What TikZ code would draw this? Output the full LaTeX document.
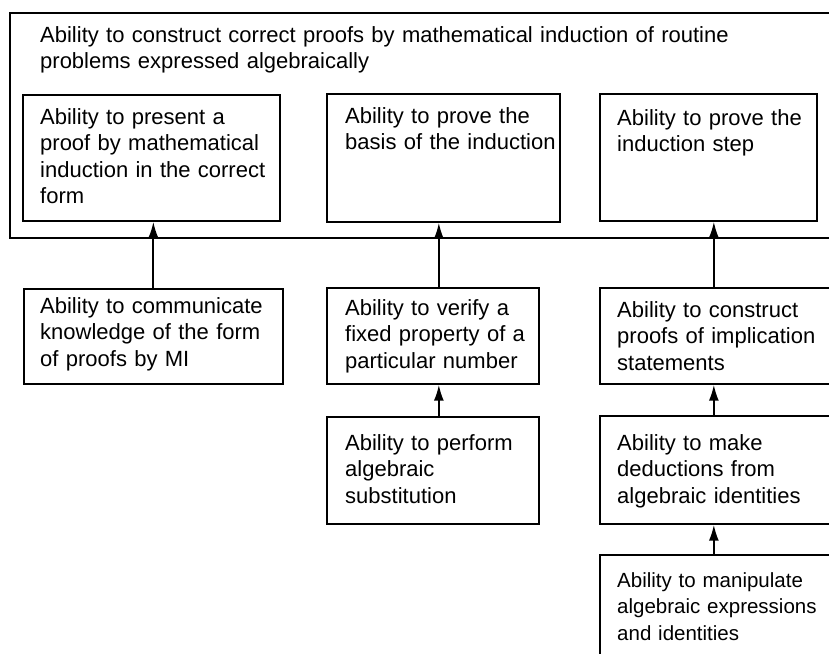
\documentclass[tikz,border=0pt]{standalone}
\usepackage{fontspec}
\setmainfont{Liberation Sans}
\usetikzlibrary{arrows.meta,calc}
\begin{document}
\begin{tikzpicture}[x=1pt,y=-1pt,
  box/.style={draw, line width=1.7pt, anchor=north west, inner sep=0pt},
  txt/.style={anchor=base west, align=left, inner sep=0pt, text width=400pt,
    font=\fontsize{22}{26.5}\selectfont},
  arr/.style={-{Latex[length=16pt,width=10pt]}, line width=1.9pt}]
\clip (0,0) rectangle (829,653);
\fill[white] (0,0) rectangle (829,653);
% outer box
\node[box, minimum width=840pt, minimum height=225pt] (outer) at (9,12) {};
\node[txt, text width=800pt, font=\fontsize{22}{26}\selectfont] (t0) at (40,42) {Ability to construct correct proofs by mathematical induction of routine\\problems expressed algebraically};
% inner boxes
\node[box, minimum width=257pt, minimum height=126pt] (in1) at (22,94) {};
\node[txt] (t1) at (40,124) {Ability to present a\\proof by mathematical\\induction in the correct\\form};
\node[box, minimum width=233pt, minimum height=128pt] (in2) at (326,93) {};
\node[txt] (t2) at (345,123) {Ability to prove the\\basis of the induction};
\node[box, minimum width=217pt, minimum height=127pt] (in3) at (599,93) {};
\node[txt] (t3) at (617,125) {Ability to prove the\\induction step};
% second row
\node[box, minimum width=259pt, minimum height=95pt] (lo1) at (23,288) {};
\node[txt] (t4) at (40,313) {Ability to communicate\\knowledge of the form\\of proofs by MI};
\node[box, minimum width=212pt, minimum height=96pt] (lo2) at (326,287) {};
\node[txt] (t5) at (345,315) {Ability to verify a\\fixed property of a\\particular number};
\node[box, minimum width=240pt, minimum height=96pt] (lo3) at (599,287) {};
\node[txt] (t6) at (617,317) {Ability to construct\\proofs of implication\\statements};
% third row
\node[box, minimum width=212pt, minimum height=107pt] (pf) at (326,416) {};
\node[txt] (t7) at (345,450) {Ability to perform\\algebraic\\substitution};
\node[box, minimum width=240pt, minimum height=108pt] (dd) at (599,415) {};
\node[txt] (t8) at (617,450) {Ability to make\\deductions from\\algebraic identities};
% fourth row
\node[box, minimum width=240pt, minimum height=120pt] (mp) at (599,554) {};
\node[txt, font=\fontsize{20.5}{26.5}\selectfont] (t9) at (617,587) {Ability to manipulate\\algebraic expressions\\and identities};
% connectors
\coordinate (c2) at ($(lo2.north)+(6,0)$);
\coordinate (c3) at ($(in3.south)+(5.5,0)$);
\draw[arr] (lo1.north) -- (lo1.north |- in1.south);
\draw[arr] (c2) -- (c2 |- in2.south);
\draw[arr] (c2 |- pf.north) -- (c2 |- lo2.south);
\draw[arr] (c3 |- lo3.north) -- (c3);
\draw[arr] (c3 |- dd.north) -- (c3 |- lo3.south);
\draw[arr] (c3 |- mp.north) -- (c3 |- dd.south);
\end{tikzpicture}
\end{document}
